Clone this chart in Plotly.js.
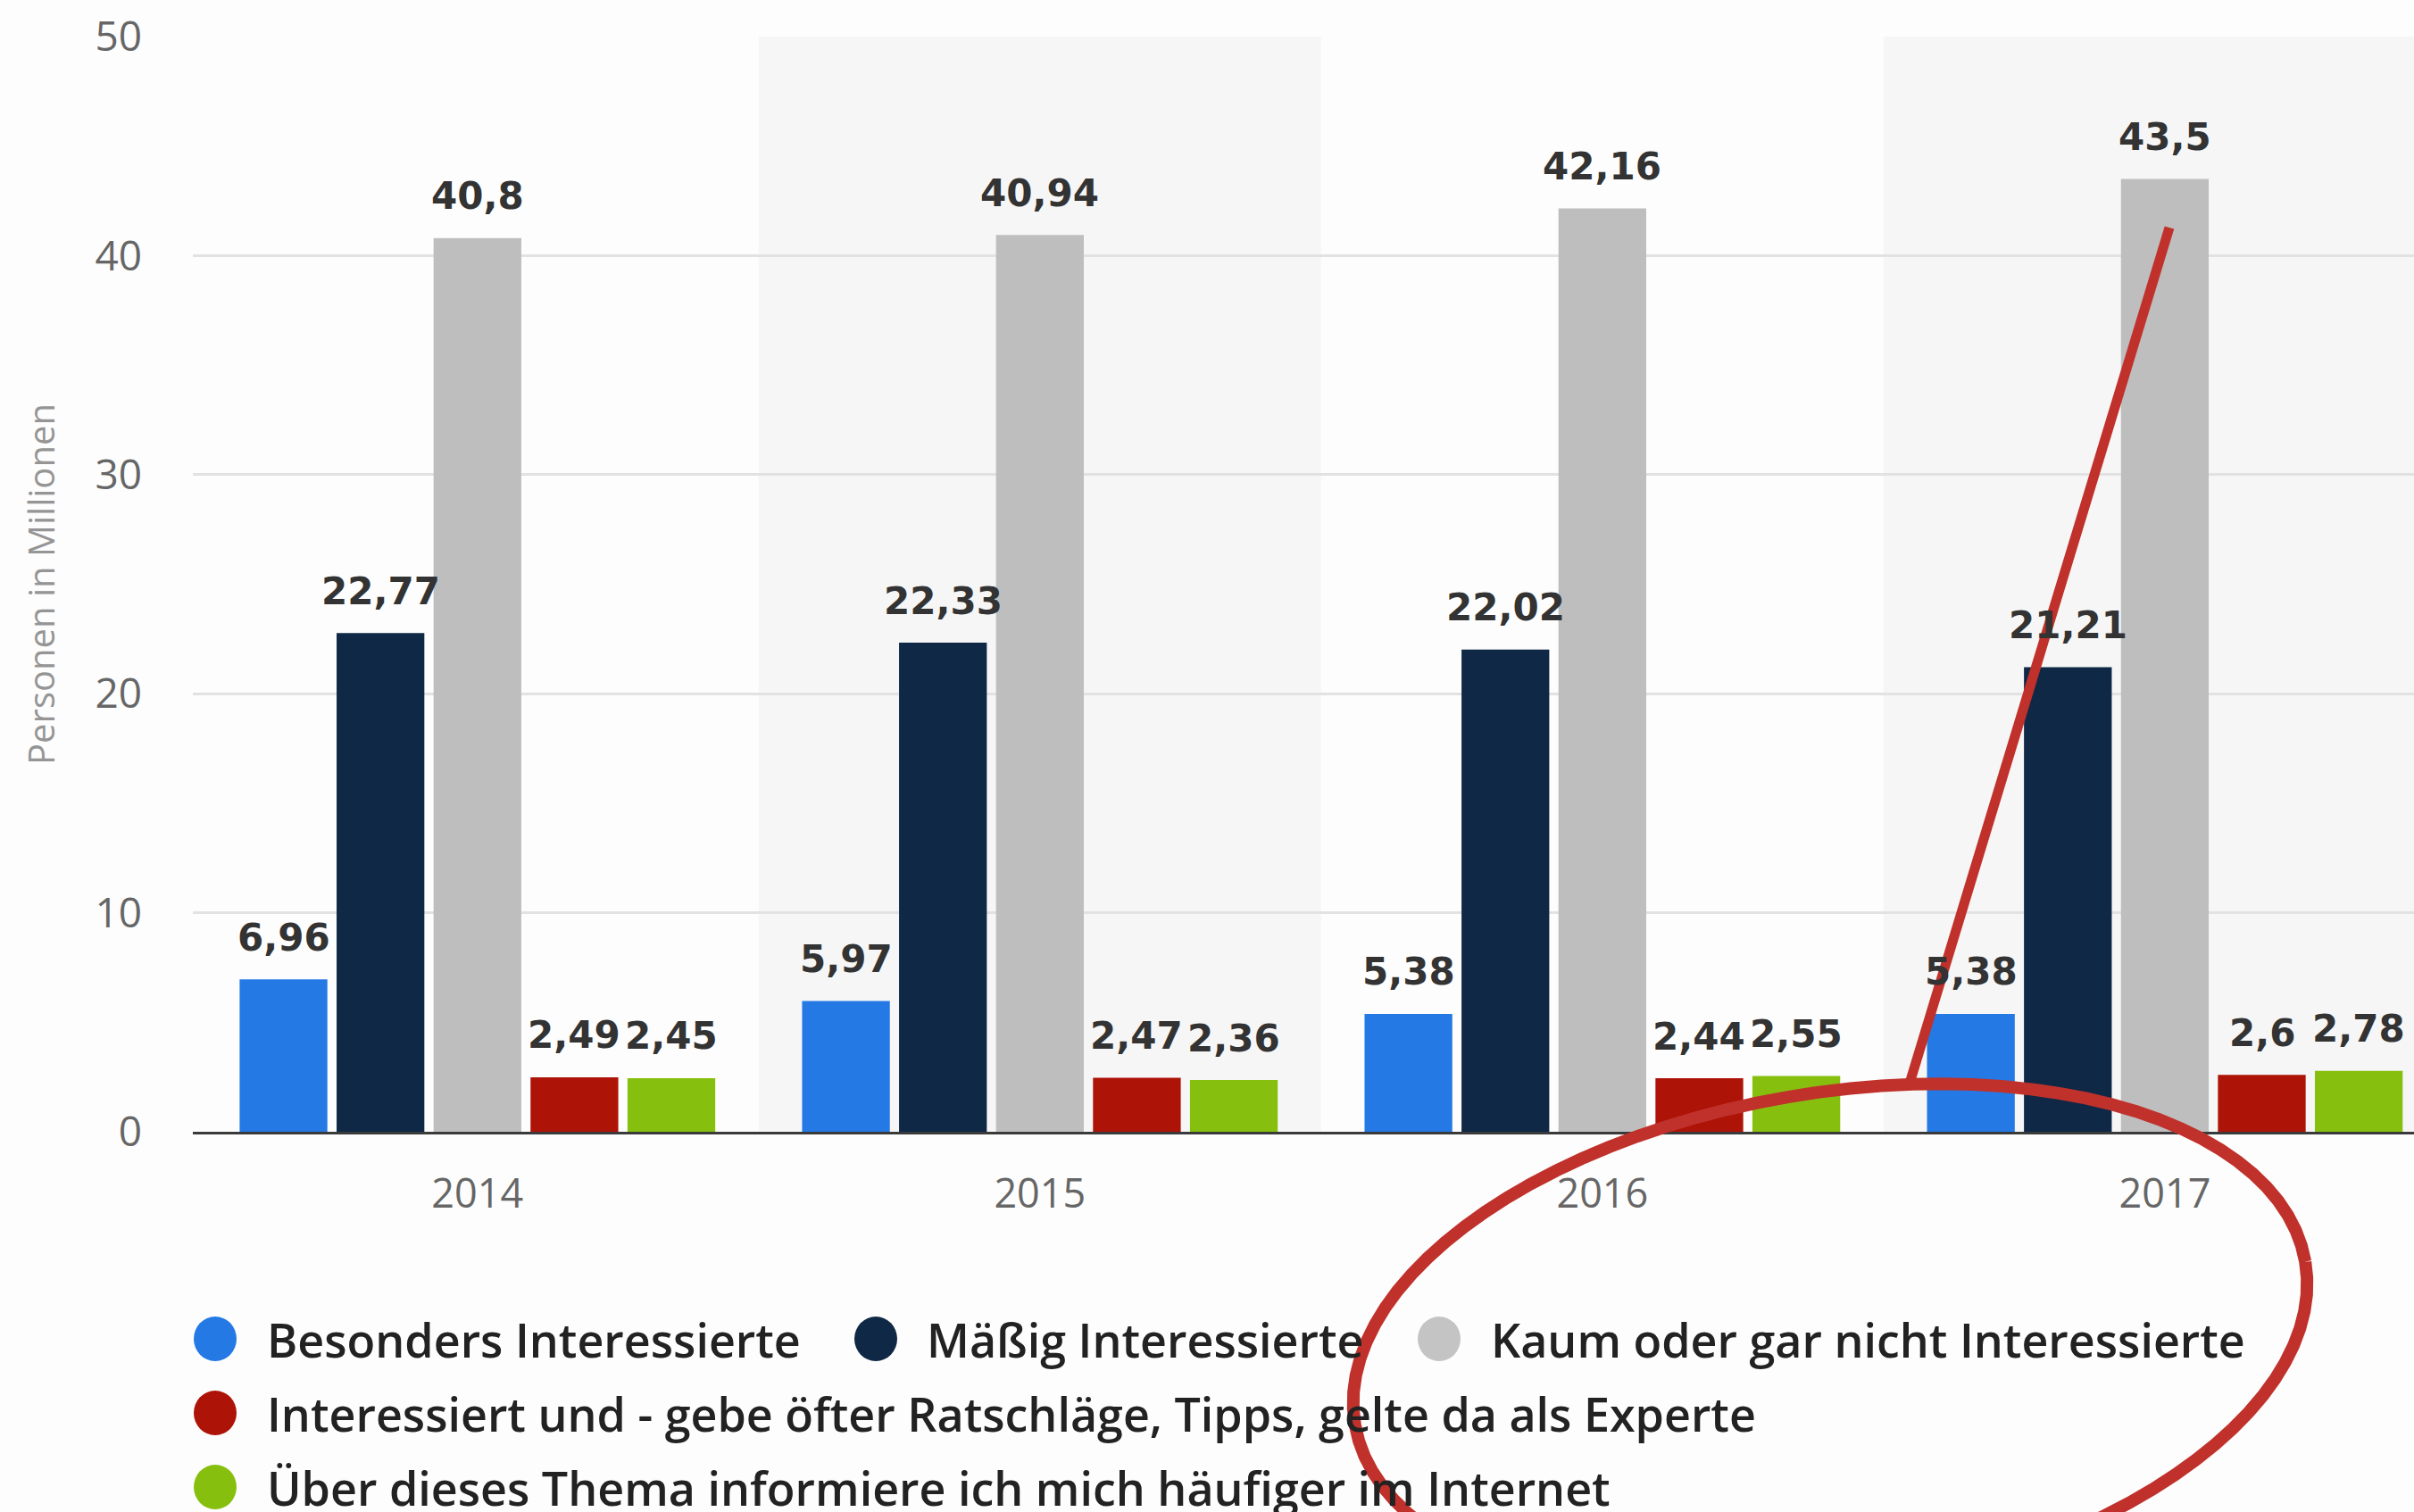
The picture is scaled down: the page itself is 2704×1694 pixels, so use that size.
<!DOCTYPE html>
<html>
<head>
<meta charset="utf-8">
<script src="https://cdn.plot.ly/plotly-3.0.1.min.js"></script>
<style>
  html, body { margin: 0; padding: 0; background: #fdfdfd; }
  #chart { width: 2704px; height: 1694px; }
</style>
</head>
<body>
<div id="chart"></div>
<script>
// ---- data ----
const categories = ['2014', '2015', '2016', '2017'];
const besondersInteressierte = [6.96, 5.97, 5.38, 5.38];
const maessigInteressierte = [22.77, 22.33, 22.02, 21.21];
const kaumInteressierte = [40.8, 40.94, 42.16, 43.5];
const experten = [2.49, 2.47, 2.44, 2.6];
const internetInformierte = [2.45, 2.36, 2.55, 2.78];

const seriesNames = [
  'Besonders Interessierte',
  'Mäßig Interessierte',
  'Kaum oder gar nicht Interessierte',
  'Interessiert und - gebe öfter Ratschläge, Tipps, gelte da als Experte',
  'Über dieses Thema informiere ich mich häufiger im Internet'
];
const seriesValues = [besondersInteressierte, maessigInteressierte, kaumInteressierte, experten, internetInformierte];
const seriesColors = ['#2479e4', '#0f2846', '#bebebe', '#ad1307', '#86bf0e'];
const yAxisTitle = 'Personen in Millionen';

// ---- geometry (pixels) ----
const W = 2704, H = 1694;
const L = 216, R = 2704, T = 41, B = 1268;
const px = x => (x - L) / (R - L);
const py = y => (B - y) / (B - T);
const BARGAP = 0.138, BARGROUPGAP = 0.095;

const fmt = v => String(v).replace('.', ',');

const traces = seriesValues.map((vals, i) => ({
  type: 'bar',
  name: seriesNames[i],
  x: categories,
  y: vals,
  marker: { color: seriesColors[i], line: { width: 0 } },
  showlegend: false,
  hoverinfo: 'x+y+name'
}));

const annotations = [];
// value labels above each bar, placed in data coordinates
const nSeries = seriesValues.length;
const slot = (1 - BARGAP) / nSeries;
seriesValues.forEach((vals, j) => {
  vals.forEach((v, i) => {
    annotations.push({
      xref: 'x', yref: 'y',
      x: i + (j - (nSeries - 1) / 2) * slot, y: v,
      xanchor: 'center', yanchor: 'middle', yshift: 47,
      showarrow: false, text: fmt(v),
      font: { family: 'DejaVu Sans', size: 42, color: '#333333', weight: 700 }
    });
  });
});

// background stripes for every second category
const shapes = [];
categories.forEach((c, i) => {
  if (i % 2 === 1) {
    shapes.push({
      type: 'rect', layer: 'below', xref: 'x', yref: 'paper',
      x0: i - 0.5, x1: i + 0.5, y0: 0, y1: 1,
      fillcolor: '#f6f6f6', line: { width: 0 }
    });
  }
});

// custom legend (large round markers)
const legendItems = [
  { cx: 241, cy: 1500, tx: 297 },
  { cx: 981, cy: 1500, tx: 1036 },
  { cx: 1612, cy: 1500, tx: 1668 },
  { cx: 241, cy: 1583, tx: 297 },
  { cx: 241, cy: 1666, tx: 297 }
];
legendItems.forEach((it, i) => {
  shapes.push({
    type: 'circle', xref: 'paper', yref: 'paper',
    xsizemode: 'pixel', ysizemode: 'pixel',
    xanchor: px(it.cx), yanchor: py(it.cy),
    x0: -24, x1: 24, y0: -25, y1: 25,
    fillcolor: i === 2 ? '#c4c4c4' : seriesColors[i], line: { width: 0 }
  });
  annotations.push({
    xref: 'paper', yref: 'paper', x: px(it.tx), y: py(it.cy),
    xanchor: 'left', yanchor: 'middle', showarrow: false,
    text: seriesNames[i],
    font: { family: 'Open Sans', size: 52, color: '#222222', weight: 600 }
  });
});

// red hand-drawn highlight: pointer line and ellipse
const lineStart = [2138, 1217], lineEnd = [2430, 255];
shapes.push({
  type: 'line', xref: 'paper', yref: 'paper',
  x0: px(lineStart[0]), y0: py(lineStart[1]), x1: px(lineEnd[0]), y1: py(lineEnd[1]),
  line: { color: '#c0312b', width: 11 }
});
const ell = { cx: 2050, cy: 1505, rx: 540, ry: 280, a: -0.17 };
let path = '';
const N = 96;
for (let k = 0; k <= N; k++) {
  const t = 2 * Math.PI * k / N;
  const ex = ell.rx * Math.cos(t), ey = ell.ry * Math.sin(t);
  const X = ell.cx + ex * Math.cos(ell.a) - ey * Math.sin(ell.a);
  const Y = ell.cy + ex * Math.sin(ell.a) + ey * Math.cos(ell.a);
  path += (k === 0 ? 'M' : 'L') + px(X).toFixed(5) + ',' + py(Y).toFixed(5);
}
shapes.push({
  type: 'path', xref: 'paper', yref: 'paper', path: path,
  line: { color: '#c0312b', width: 14 }
});

const layout = {
  width: W, height: H,
  margin: { l: L, r: W - R, t: T, b: H - B, pad: 0 },
  paper_bgcolor: '#fdfdfd',
  plot_bgcolor: '#fdfdfd',
  barmode: 'group',
  bargap: BARGAP,
  bargroupgap: BARGROUPGAP,
  showlegend: false,
  font: { family: 'Open Sans', color: '#666666' },
  xaxis: {
    type: 'category',
    range: [-0.506, 3.443],
    showgrid: false,
    showline: true, linecolor: '#3a3a3a', linewidth: 3,
    ticks: '', ticklabelstandoff: 28,
    tickfont: { family: 'Open Sans', size: 45, color: '#666666' },
    fixedrange: true
  },
  yaxis: {
    range: [0, 50],
    dtick: 10,
    showgrid: true, gridcolor: '#e2e2e2', gridwidth: 3,
    zeroline: false, showline: false,
    ticks: '', ticklabelstandoff: 56,
    tickfont: { family: 'Open Sans', size: 46, color: '#666666' },
    title: { text: yAxisTitle, font: { family: 'Open Sans', size: 40, color: '#959595' }, standoff: 32 },
    automargin: false,
    fixedrange: true
  },
  shapes: shapes,
  annotations: annotations
};

Plotly.newPlot('chart', traces, layout, { displayModeBar: false, staticPlot: true });
</script>
</body>
</html>
